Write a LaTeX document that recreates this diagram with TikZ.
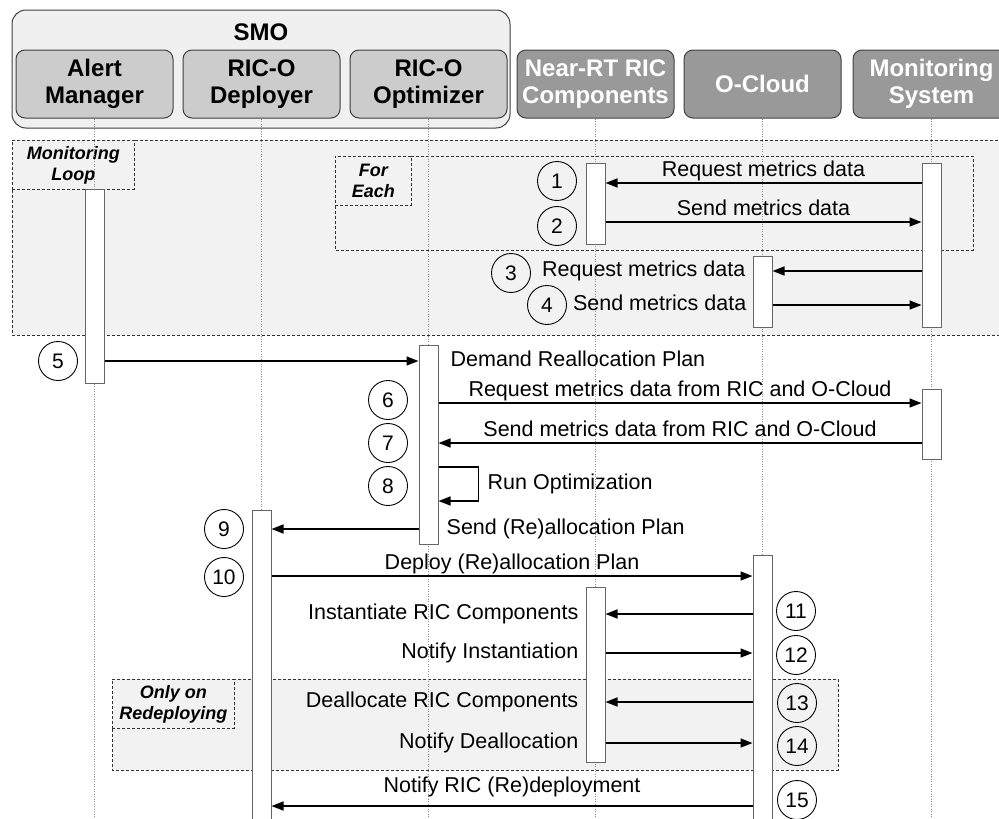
\documentclass[tikz,border=0pt]{standalone}
\usepackage{fontspec}
\setmainfont{Liberation Sans}
\usetikzlibrary{positioning,arrows.meta}

\begin{document}
\begin{tikzpicture}[x=1pt,y=-1pt,
node distance=9pt,
smo/.style={rounded corners=9pt,
  draw=black!75, fill=black!20,
  line width=1pt,
  minimum width=157pt, minimum height=68pt,
  inner sep=2pt, align=center,
  font=\bfseries\fontsize{24}{27}\selectfont
},
comp/.style={smo, fill=black!40, text=white},
group/.style={rounded corners=14pt, draw=black!75, fill=black!6, line width=1pt},
life/.style={draw=black!45, dash pattern=on 1pt off 1.5pt, line width=0.8pt},
bar/.style={draw=black!60, fill=white, line width=1pt, minimum width=19pt, inner sep=0pt},
frame/.style={draw=black!80, fill=black!5, dash pattern=on 3pt off 2pt, line width=0.9pt},
tag/.style={frame, anchor=north west, align=center, inner sep=1pt,
  font=\bfseries\itshape\fontsize{18}{21}\selectfont},
num/.style={circle, draw, line width=0.9pt, minimum size=39pt, inner sep=0pt,
  font=\fontsize{21}{24}\selectfont},
msg/.style={inner sep=1pt, text depth=5pt, font=\fontsize{21.5}{24}\selectfont},
call/.style={-{Triangle[length=12pt,width=9pt]}, line width=1.6pt}
]
\useasboundingbox (0,0) rectangle (999,819);

\draw[group] (12,10) rectangle (510,128);
\node (smo) at (261,32) [font=\bfseries\fontsize{24}{27}\selectfont] {SMO};

\node (am) [smo] at (94.5,84) {Alert\\Manager};

\node (dep) [smo, right=of am] {RIC-O\\Deployer};

\node (opt) [smo, right=of dep] {RIC-O\\Optimizer};

\node (nrt) [comp, right=of opt] {Near-RT RIC\\Components};

\node (oc) [comp, right=of nrt] {O-Cloud};

\node (mon) [comp, right=11pt of oc] {Monitoring\\System};

\draw[frame] (12,140) rectangle (1010,335);
\node (tml) [tag, minimum width=122pt, minimum height=49pt] at (12,140) {Monitoring\\Loop};
\draw[frame] (335,156) rectangle (973,250);
\node (tfe) [tag, minimum width=76pt, minimum height=49pt] at (335,156) {For\\Each};
\draw[frame] (112,679) rectangle (838,770);
\node (tor) [tag, minimum width=122pt, minimum height=49pt] at (112,679) {Only on\\Redeploying};

\draw[life] (am.south) -- (am.south |- 0,830);
\draw[life] (dep.south) -- (dep.south |- 0,830);
\draw[life] (opt.south) -- (opt.south |- 0,830);
\draw[life] (nrt.south) -- (nrt.south |- 0,830);
\draw[life] (oc.south) -- (oc.south |- 0,830);
\draw[life] (mon.south) -- (mon.south |- 0,830);

\node (amb) [bar, minimum height=194pt] at (am |- 0,286) {};
\node (nrtb1) [bar, minimum height=81pt] at (nrt |- 0,203.5) {};
\node (monb1) [bar, minimum height=164pt] at (mon |- 0,245) {};
\node (ocb1) [bar, minimum height=71pt] at (oc |- 0,291.5) {};
\node (optb) [bar, minimum height=199pt] at (opt |- 0,444.5) {};
\node (monb2) [bar, minimum height=70pt] at (mon |- 0,424) {};
\node (depb) [bar, minimum height=320pt] at (dep |- 0,670) {};
\node (ocb2) [bar, minimum height=275pt] at (oc |- 0,692.5) {};
\node (nrtb2) [bar, minimum height=175pt] at (nrt |- 0,674.5) {};

\draw[call] (monb1.west |- 0,183) -- node[msg, above] (l1) {Request metrics data} (nrtb1.east |- 0,183);
\draw[call] (nrtb1.east |- 0,222) -- node[msg, above] (l2) {Send metrics data} (monb1.west |- 0,222);
\draw[call] (monb1.west |- 0,271) -- (ocb1.east |- 0,271);
\node (l3) [msg, anchor=east, xshift=-6pt] at (ocb1.west |- 0,271) {Request metrics data};
\draw[call] (ocb1.east |- 0,305) -- (monb1.west |- 0,305);
\node (l4) [msg, anchor=east, xshift=-5pt] at (ocb1.west |- 0,305) {Send metrics data};

\draw[call] (amb.east |- 0,361) -- (optb.west |- 0,361);
\node (l5) [msg, anchor=west, xshift=11pt] at (optb.east |- 0,361) {Demand Reallocation Plan};
\draw[call] (optb.east |- 0,403) -- node[msg, above] (l6) {Request metrics data from RIC and O-Cloud} (monb2.west |- 0,403);
\draw[call] (monb2.west |- 0,443) -- node[msg, above] (l7) {Send metrics data from RIC and O-Cloud} (optb.east |- 0,443);
\draw[call] (optb.east |- 0,467) -- ++(40,0) |- (optb.east |- 0,501);
\node (l8) [msg, anchor=west, xshift=48pt] at (optb.east |- 0,484) {Run Optimization};
\draw[call] (optb.west |- 0,529) -- (depb.east |- 0,529);
\node (l9) [msg, anchor=west, xshift=7pt] at (optb.east |- 0,529) {Send (Re)allocation Plan};

\draw[call] (depb.east |- 0,576) -- node[msg, above] (l10) {Deploy (Re)allocation Plan} (ocb2.west |- 0,576);
\draw[call] (ocb2.west |- 0,614) -- (nrtb2.east |- 0,614);
\node (l11) [msg, anchor=east, xshift=-6pt] at (nrtb2.west |- 0,614) {Instantiate RIC Components};
\draw[call] (nrtb2.east |- 0,653) -- (ocb2.west |- 0,653);
\node (l12) [msg, anchor=east, xshift=-6pt] at (nrtb2.west |- 0,653) {Notify Instantiation};
\draw[call] (ocb2.west |- 0,702) -- (nrtb2.east |- 0,702);
\node (l13) [msg, anchor=east, xshift=-6pt] at (nrtb2.west |- 0,702) {Deallocate RIC Components};
\draw[call] (nrtb2.east |- 0,743) -- (ocb2.west |- 0,743);
\node (l14) [msg, anchor=east, xshift=-6pt] at (nrtb2.west |- 0,743) {Notify Deallocation};
\draw[call] (ocb2.west |- 0,806) -- node[msg, above=7pt] (l15) {Notify RIC (Re)deployment} (depb.east |- 0,806);

\node (n1) [num] at (557,181) {1};
\node (n2) [num] at (557,226) {2};
\node (n3) [num] at (511,273) {3};
\node (n4) [num] at (547,305) {4};
\node (n5) [num] at (58,361) {5};
\node (n6) [num] at (388,400) {6};
\node (n7) [num] at (388,443) {7};
\node (n8) [num] at (388,486) {8};
\node (n9) [num] at (224,529) {9};
\node (n10) [num] at (224,577) {10};
\node (n11) [num] at (796,611) {11};
\node (n12) [num] at (796,655) {12};
\node (n13) [num] at (797,703) {13};
\node (n14) [num] at (797,746) {14};
\node (n15) [num] at (797,800) {15};
\end{tikzpicture}
\end{document}
